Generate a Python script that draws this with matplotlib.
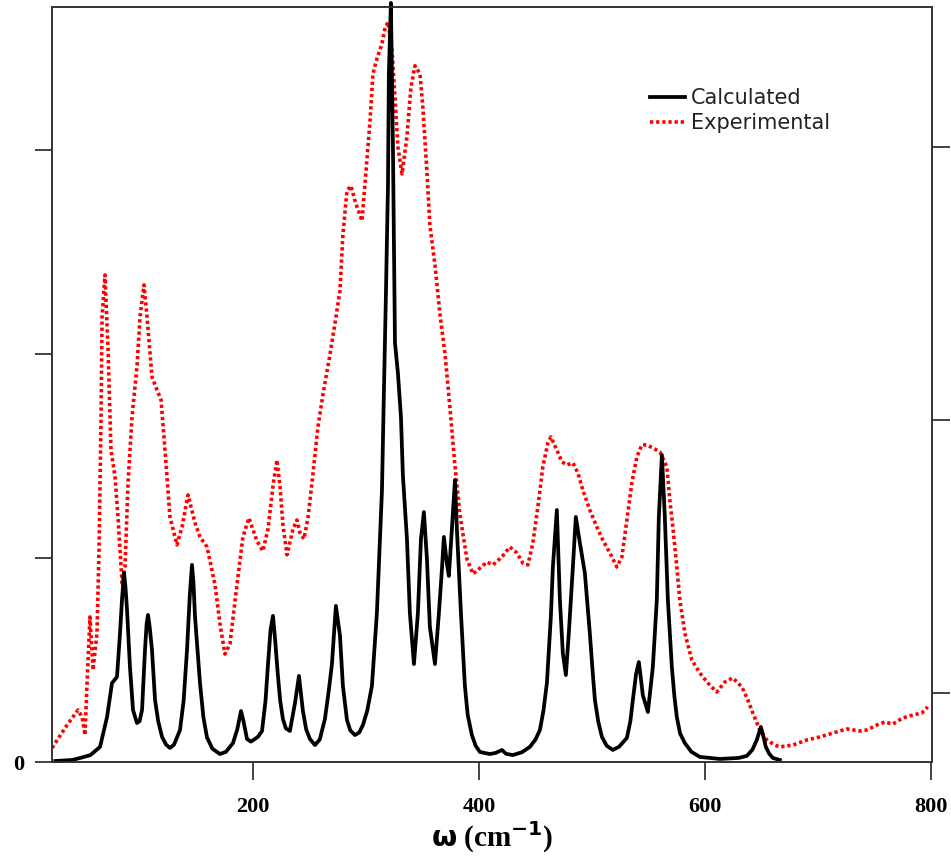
import numpy as np
import matplotlib
matplotlib.use("Agg")
import matplotlib.pyplot as plt

# Calculated spectrum (black)
calc_w = [25, 40, 47, 56, 64.5, 70.7, 75.1, 79.5, 82.2, 84.0, 85.7, 87.0, 88.4,
          91.0, 93.7, 97.2, 99.5, 101.7, 104.3, 105.8, 107.0, 108.5, 110.5,
          113.2, 116.0, 119.4, 123.0, 126.4, 130.0, 135.3, 138.5, 141.5, 144.0,
          145.9, 147.2, 148.6, 153.0, 156.0, 159.2, 164.0, 170.7, 176.0, 182.2,
          186.0, 189.3, 191.5, 194.6, 198.0, 201.7, 204.5, 207.9, 211.0, 213.2,
          215.5, 217.6, 219.5, 222.0, 224.0, 226.4, 229.0, 232.6, 237.1, 240.6,
          244.1, 247.0, 250.3, 254.8, 259.0, 263.6, 267.0, 269.8, 273.3, 276.9,
          279.5, 283.1, 286.0, 290.2, 294.0, 297.2, 301.0, 305.2, 309.6, 314.1,
          315.8, 317.6, 319.4, 320.2, 322.0, 323.8, 324.7, 325.6, 328.2, 330.9,
          332.6, 336.2, 338.8, 342.4, 345.9, 348.6, 351.2, 353.9, 356.5, 361.0,
          364.5, 367.2, 368.9, 371.6, 373.3, 376.0, 378.7, 380.4, 384.0, 387.5,
          390.0, 393.7, 397.0, 400.8, 409.6, 415.0, 420.3, 424.0, 430.0, 438.0,
          445.0, 450.0, 453.9, 457.0, 460.1, 463.6, 465.4, 468.9, 471.6, 474.2,
          476.9, 479.5, 483.1, 485.7, 489.3, 493.7, 498.1, 500.5, 502.6, 505.5,
          508.8, 513.0, 518.5, 524.0, 530.9, 534.0, 536.2, 539.0, 541.5, 543.5,
          545.0, 549.5, 553.9, 557.4, 559.2, 561.9, 564.5, 567.2, 570.7, 573.0,
          575.1, 578.0, 582.2, 588.0, 595.5, 613.2, 630.0, 637.1, 642.0, 645.9,
          649.5, 652.0, 653.9, 657.0, 660.1, 666.3]
calc_i = [0.005, 0.01, 0.02, 0.034, 0.074, 0.22, 0.387, 0.417, 0.632, 0.80,
          0.926, 0.86, 0.745, 0.466, 0.255, 0.191, 0.2, 0.255, 0.549, 0.68,
          0.721, 0.66, 0.549, 0.304, 0.2, 0.123, 0.085, 0.069, 0.085, 0.157,
          0.3, 0.549, 0.82, 0.966, 0.88, 0.711, 0.387, 0.22, 0.12, 0.065,
          0.039, 0.05, 0.093, 0.16, 0.25, 0.2, 0.113, 0.1, 0.113, 0.125,
          0.152, 0.3, 0.48, 0.65, 0.716, 0.6, 0.422, 0.3, 0.211, 0.165,
          0.152, 0.289, 0.422, 0.25, 0.16, 0.113, 0.083, 0.11, 0.211, 0.35,
          0.48, 0.765, 0.62, 0.373, 0.206, 0.155, 0.132, 0.145, 0.181, 0.25,
          0.373, 0.73, 1.333, 1.814, 2.294, 2.824, 3.373, 3.72, 3.015, 2.534,
          2.054, 1.907, 1.691, 1.407, 1.093, 0.73, 0.48, 0.73, 1.093, 1.225,
          0.995, 0.662, 0.48, 0.73, 0.946, 1.103, 0.971, 0.912, 1.142, 1.382,
          1.142, 0.73, 0.373, 0.23, 0.132, 0.08, 0.049, 0.039, 0.045, 0.059,
          0.04, 0.034, 0.048, 0.074, 0.11, 0.157, 0.25, 0.387, 0.711, 0.956,
          1.235, 0.794, 0.534, 0.426, 0.632, 0.956, 1.201, 1.074, 0.926, 0.632,
          0.45, 0.304, 0.2, 0.123, 0.08, 0.059, 0.075, 0.118, 0.2, 0.304,
          0.43, 0.49, 0.4, 0.328, 0.245, 0.466, 0.794, 1.201, 1.505, 1.201,
          0.794, 0.466, 0.32, 0.221, 0.14, 0.093, 0.05, 0.025, 0.015, 0.02,
          0.03, 0.06, 0.108, 0.172, 0.12, 0.074, 0.04, 0.02, 0.01]

# Experimental spectrum (red dotted)
exp_w = [22.0, 35.3, 45.0, 48.6, 51.2, 53.0, 55.6, 58.3, 61.8, 63.6, 65.4, 66.3,
         68.9, 71.6, 74.2, 77.8, 80.4, 84.0, 86.6, 89.3, 92.8, 97.2, 99.9, 103.4,
         106.1, 110.5, 114.9, 118.5, 122.0, 126.4, 132.6, 137.1, 142.4, 148.6,
         153.0, 159.2, 166.3, 170.7, 175.1, 179.5, 185.7, 191.0, 196.3, 203.4,
         208.7, 213.2, 217.6, 221.1, 223.8, 226.4, 230.0, 235.3, 238.8, 241.5,
         245.0, 248.6, 253.0, 257.4, 261.8, 268.0, 272.5, 276.9, 279.5, 283.1,
         286.6, 290.2, 296.4, 299.9, 303.4, 306.1, 309.6, 314.1, 316.7, 319.4,
         322.9, 325.6, 328.2, 331.8, 336.2, 339.7, 343.3, 347.7, 350.3, 353.9,
         356.5, 361.0, 365.4, 369.8, 374.2, 378.7, 383.1, 389.3, 394.6, 400.8,
         407.0, 412.3, 420.3, 427.3, 433.5, 438.8, 443.3, 447.7, 452.1, 456.5,
         461.0, 463.6, 468.9, 473.4, 477.8, 483.1, 487.5, 491.9, 498.1, 504.3,
         509.6, 515.8, 522.0, 526.5, 530.9, 535.3, 539.7, 544.2, 548.6, 553.9,
         560.1, 566.3, 568.9, 571.6, 575.1, 577.8, 582.2, 588.4, 595.5, 602.6,
         610.5, 617.6, 624.7, 632.7, 638.0, 642.4, 648.6, 654.8, 661.9, 666.3,
         677.8, 690.2, 701.7, 713.2, 725.6, 737.1, 743.3, 752.1, 759.2, 766.3,
         775.1, 784.0, 791.9, 797.3]
exp_i = [0.069, 0.181, 0.255, 0.221, 0.132, 0.387, 0.711, 0.451, 0.632, 1.039,
         1.691, 2.181, 2.387, 2.02, 1.529, 1.397, 1.201, 0.877, 0.956, 1.368,
         1.691, 1.936, 2.181, 2.338, 2.181, 1.887, 1.824, 1.775, 1.529, 1.201,
         1.064, 1.152, 1.309, 1.172, 1.103, 1.054, 0.868, 0.676, 0.529, 0.578,
         0.868, 1.103, 1.196, 1.083, 1.034, 1.142, 1.353, 1.48, 1.353, 1.162,
         1.015, 1.142, 1.186, 1.123, 1.093, 1.196, 1.412, 1.642, 1.799, 1.995,
         2.15, 2.31, 2.583, 2.799, 2.824, 2.75, 2.652, 2.892, 3.132, 3.373,
         3.446, 3.52, 3.593, 3.627, 3.495, 3.255, 3.015, 2.882, 3.064, 3.304,
         3.412, 3.373, 3.206, 2.892, 2.632, 2.436, 2.196, 2.005, 1.74, 1.451,
         1.211, 0.995, 0.922, 0.95, 0.98, 0.966, 1.005, 1.054, 1.025, 0.975,
         0.966, 1.074, 1.25, 1.446, 1.564, 1.593, 1.529, 1.471, 1.456, 1.466,
         1.417, 1.333, 1.235, 1.152, 1.088, 1.025, 0.956, 1.005, 1.186, 1.368,
         1.495, 1.554, 1.554, 1.539, 1.52, 1.446, 1.284, 1.152, 0.956, 0.794,
         0.632, 0.5, 0.436, 0.387, 0.343, 0.392, 0.412, 0.368, 0.304, 0.24,
         0.157, 0.108, 0.083, 0.074, 0.083, 0.108, 0.123, 0.142, 0.162, 0.152,
         0.157, 0.181, 0.196, 0.186, 0.216, 0.23, 0.24, 0.27]

x_ticks = [200, 400, 600, 800]
left_ticks = [0, 1, 2, 3]
right_ticks = [0.338, 1.676, 3.015]

fig = plt.figure(figsize=(9.51, 8.56), dpi=100)
ax = fig.add_axes([0.0547, 0.1098, 0.9253, 0.8820])

ax.plot(exp_w, exp_i, color="red", lw=2.6, dashes=(0.9, 0.8),
        dash_capstyle="butt", label="Experimental", zorder=2)
ax.plot(calc_w, calc_i, color="black", lw=2.7, label="Calculated",
        clip_on=False, zorder=3)

ax.set_xlim(22, 801)
ax.set_ylim(0, 3.70)

ax.set_xticks(x_ticks)
ax.set_xticklabels([str(t) for t in x_ticks])
ax.set_yticks(left_ticks)
ax.set_yticklabels(["0", "", "", ""])
ax.tick_params(axis="x", direction="out", length=13, width=1.2, pad=12,
               colors="#222222")
ax.tick_params(axis="y", direction="out", length=12, width=1.2, pad=8,
               colors="#222222")
for lab in ax.get_xticklabels() + ax.get_yticklabels():
    lab.set_fontfamily("Liberation Serif")
    lab.set_fontweight("bold")
    lab.set_fontsize(16)
    lab.set_color("black")

ax2 = ax.twinx()
ax2.set_ylim(ax.get_ylim())
ax2.set_yticks(right_ticks)
ax2.set_yticklabels([])
ax2.tick_params(axis="y", direction="out", length=13, width=1.2, colors="#222222")

for a in (ax, ax2):
    for s in a.spines.values():
        s.set_color("#333333")
        s.set_linewidth(1.2)

ax.set_xlabel(r"$\mathbf{\omega}$ (cm$^{\mathbf{-1}}$)", fontfamily="Liberation Serif",
              fontweight="bold", fontsize=21, labelpad=2)

handles, labels = ax.get_legend_handles_labels()
leg = ax.legend(handles[::-1], labels[::-1], loc="upper left",
                bbox_to_anchor=(0.6795, 0.893), frameon=False, fontsize=15,
                handlelength=1.7, handletextpad=0.25, labelspacing=0.25,
                borderpad=0, borderaxespad=0)
for t in leg.get_texts():
    t.set_fontfamily("DejaVu Sans")
    t.set_color("#222222")

fig.savefig("out.png", dpi=100, facecolor="white")
